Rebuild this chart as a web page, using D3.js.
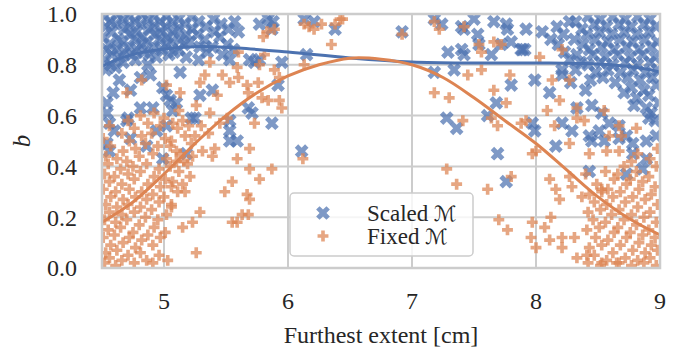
<!DOCTYPE html>
<html>
<head>
<meta charset="utf-8">
<script src="https://cdn.jsdelivr.net/npm/d3@7"></script>
<style>
  body { margin: 0; background: #fff; }
  text { font-family: "Liberation Serif", "Times New Roman", "DejaVu Serif", serif; }
</style>
</head>
<body>
<div id="chart"></div>
<script>
// ticks
const xTicks = [5, 6, 7, 8, 9];
const yTicks = [0.0, 0.2, 0.4, 0.6, 0.8, 1.0];

// Scaled M scatter (left / middle / right groups)
const scaledLeft = [
  [4.52,0.99],[4.53,0.95],[4.51,0.91],[4.54,0.86],[4.52,0.82],[4.53,0.78],
  [4.57,0.97],[4.58,0.93],[4.56,0.88],[4.58,0.84],[4.57,0.80],
  [4.62,1.00],[4.61,0.96],[4.63,0.90],[4.62,0.86],[4.64,0.83],[4.61,0.79],
  [4.67,0.98],[4.68,0.94],[4.66,0.89],[4.68,0.85],[4.67,0.81],
  [4.72,0.99],[4.71,0.95],[4.73,0.92],[4.72,0.87],[4.74,0.84],
  [4.77,0.97],[4.78,0.93],[4.76,0.90],[4.78,0.86],[4.77,0.82],
  [4.82,1.00],[4.81,0.96],[4.83,0.91],[4.82,0.88],[4.84,0.85],
  [4.87,0.98],[4.88,0.94],[4.86,0.89],[4.88,0.84],[4.87,0.80],
  [4.92,0.99],[4.91,0.95],[4.93,0.92],[4.92,0.87],[4.94,0.83],
  [4.97,0.97],[4.98,0.93],[4.96,0.90],[4.98,0.86],
  [5.02,0.99],[5.01,0.95],[5.03,0.91],[5.02,0.88],[5.04,0.84],
  [5.07,0.97],[5.08,0.93],[5.06,0.89],[5.08,0.85],
  [5.12,0.98],[5.11,0.94],[5.13,0.90],[5.12,0.86],
  [5.17,0.96],[5.18,0.92],[5.16,0.88],[5.18,0.83],
  [5.22,0.99],[5.23,0.94],[5.21,0.89],
  [5.28,0.97],[5.27,0.92],[5.29,0.87],[5.28,0.82],
  [5.34,0.95],[5.33,0.90],[5.35,0.85],
  [5.40,0.98],[5.41,0.93],[5.39,0.87],
  [5.46,0.96],[5.45,0.91],[5.47,0.84],
  [5.52,0.94],[5.51,0.88],[5.53,0.82],
  [5.57,0.97],[5.56,0.86],
  [4.64,0.74],[4.73,0.70],[4.81,0.75],[4.89,0.76],[4.59,0.69],[4.54,0.65],
  [4.81,0.63],[4.91,0.63],[4.71,0.59],[4.56,0.57],[4.99,0.71],[5.02,0.68],
  [5.10,0.65],[5.25,0.59],[5.29,0.68],[5.39,0.70],[5.13,0.77],[5.02,0.56],
  [4.94,0.54],[4.54,0.61],[4.60,0.54],[4.70,0.58],[5.05,0.66],[5.07,0.62],
  [5.22,0.59],[5.53,0.54],[5.53,0.58],[4.54,0.49],[4.56,0.46],[4.73,0.51],
  [4.86,0.48],[4.99,0.43],[5.18,0.45],[5.53,0.50]
];
const scaledMid = [
  [5.60,0.93],[5.77,0.96],[5.84,0.98],[5.88,0.97],[5.87,0.94],[5.69,0.82],
  [5.73,0.81],[5.77,0.82],[5.95,0.81],[5.92,0.72],[5.68,0.63],[5.71,0.61],
  [5.87,0.57],[5.59,0.50],[6.13,0.98],[6.21,0.97],[6.38,0.94],[6.15,0.84],
  [6.11,0.46],[6.92,0.93],[7.18,0.98],[7.24,0.96],[7.29,0.85],[7.40,0.86],
  [7.42,0.84],[7.40,0.95],[7.42,0.94],[7.50,0.98],[7.53,0.92],[7.66,0.97],
  [7.76,0.96],[7.77,0.94],[7.54,0.88],[7.64,0.84],[7.72,0.88],[7.80,0.89],
  [7.88,0.86],[7.18,0.77],[7.34,0.78],[7.80,0.72],[7.68,0.65],[7.28,0.59],
  [7.36,0.55],[7.61,0.60],[7.69,0.45],[7.76,0.34],[7.91,0.86]
];
const scaledRight = [
  [7.92,0.94],[8.05,0.93],[7.89,0.86],[7.99,0.74],[8.11,0.69],[8.21,0.76],
  [8.27,0.97],[8.40,0.70],[8.45,0.64],[8.33,0.63],[8.53,0.61],[8.59,0.57],
  [8.67,0.56],[8.91,0.59],[8.97,0.52],[8.73,0.52],[8.51,0.54],[7.97,0.57],
  [7.99,0.54],[8.21,0.57],[8.29,0.54],[8.43,0.52],
  [8.16,0.48],[8.45,0.50],[8.55,0.50],[8.67,0.51],[8.78,0.49],[8.89,0.50],
  [8.78,0.45],[8.89,0.43],[8.73,0.37],[8.86,0.39],[8.43,0.38],
  [8.12,0.90],[8.17,0.95],[8.18,0.88],[8.22,0.92],[8.23,0.85],[8.21,0.78],
  [8.27,0.82],[8.28,0.73],
  [8.32,0.97],[8.31,0.90],[8.33,0.84],[8.32,0.78],
  [8.37,0.94],[8.38,0.88],[8.36,0.81],
  [8.42,0.99],[8.41,0.92],[8.43,0.86],[8.42,0.80],[8.44,0.74],
  [8.47,0.96],[8.48,0.90],[8.46,0.84],[8.48,0.77],
  [8.52,0.98],[8.51,0.93],[8.53,0.87],[8.52,0.81],[8.54,0.75],
  [8.57,0.95],[8.58,0.89],[8.56,0.83],[8.58,0.78],
  [8.62,0.99],[8.61,0.92],[8.63,0.86],[8.62,0.80],[8.64,0.73],
  [8.67,0.96],[8.68,0.90],[8.66,0.84],[8.68,0.77],
  [8.72,0.98],[8.71,0.93],[8.73,0.87],[8.72,0.81],[8.74,0.75],[8.71,0.69],
  [8.77,0.95],[8.78,0.89],[8.76,0.83],[8.78,0.78],[8.77,0.71],[8.79,0.64],
  [8.82,0.99],[8.81,0.92],[8.83,0.86],[8.82,0.80],[8.84,0.74],[8.81,0.67],
  [8.87,0.96],[8.88,0.90],[8.86,0.84],[8.88,0.77],[8.87,0.70],[8.89,0.63],
  [8.92,0.98],[8.91,0.93],[8.93,0.87],[8.92,0.81],[8.94,0.75],[8.91,0.68],[8.93,0.61],
  [8.97,0.95],[8.98,0.89],[8.96,0.83],[8.98,0.78],[8.97,0.72],[8.99,0.65],[8.96,0.58]
];

// Fixed M scatter
const fixedLeft = [
  [4.52,0.02],[4.53,0.06],[4.51,0.12],[4.52,0.19],[4.53,0.25],[4.51,0.31],[4.52,0.37],[4.53,0.44],[4.51,0.51],
  [4.56,0.04],[4.57,0.09],[4.55,0.15],[4.56,0.22],[4.57,0.28],[4.56,0.34],[4.55,0.41],[4.57,0.48],[4.56,0.56],
  [4.61,0.01],[4.62,0.07],[4.60,0.13],[4.61,0.18],[4.62,0.24],[4.61,0.30],[4.60,0.36],[4.62,0.43],
  [4.66,0.03],[4.67,0.10],[4.65,0.16],[4.66,0.21],[4.67,0.27],[4.66,0.33],[4.65,0.39],[4.67,0.46],[4.66,0.53],
  [4.71,0.05],[4.72,0.12],[4.70,0.19],[4.71,0.25],[4.72,0.31],[4.71,0.37],[4.70,0.42],[4.72,0.50],[4.71,0.58],
  [4.76,0.02],[4.77,0.08],[4.75,0.14],[4.76,0.22],[4.77,0.28],[4.76,0.35],[4.75,0.40],[4.77,0.47],[4.76,0.55],
  [4.81,0.06],[4.82,0.11],[4.80,0.17],[4.81,0.24],[4.82,0.30],[4.81,0.38],[4.80,0.44],[4.82,0.52],[4.81,0.60],
  [4.86,0.03],[4.87,0.13],[4.85,0.20],[4.86,0.27],[4.87,0.33],[4.86,0.41],[4.85,0.49],[4.87,0.57],
  [4.91,0.09],[4.92,0.16],[4.90,0.23],[4.91,0.29],[4.92,0.36],[4.91,0.45],[4.90,0.53],[4.92,0.61],
  [4.96,0.05],[4.97,0.12],[4.95,0.19],[4.96,0.26],[4.97,0.32],[4.96,0.39],[4.95,0.48],[4.97,0.56],
  [5.01,0.14],[5.02,0.21],[5.00,0.28],[5.01,0.35],[5.02,0.43],[5.01,0.51],[5.00,0.59],
  [5.06,0.25],[5.07,0.34],[5.05,0.40],[5.06,0.50],[5.07,0.57],
  [5.11,0.30],[5.12,0.38],[5.10,0.46],[5.11,0.55],[5.12,0.62],
  [5.16,0.42],[5.17,0.52],[5.15,0.58],[5.21,0.36],[5.22,0.49],[5.20,0.56],
  [4.82,0.74],[4.70,0.69],[5.02,0.72],[5.13,0.69],[5.26,0.64],[5.29,0.73],
  [5.37,0.81],[5.33,0.76],[5.47,0.76],[5.53,0.73],[5.43,0.68],[5.37,0.61],[5.51,0.59],
  [5.06,0.32],[5.15,0.33],[5.17,0.30],[5.06,0.24],[5.29,0.22],[5.15,0.16],[5.23,0.18],
  [5.26,0.06],[5.03,0.03],[4.91,0.02],[5.31,0.46],[5.41,0.47],[5.39,0.44],[5.55,0.34],
  [5.49,0.30],[5.55,0.18],[5.05,0.48],[5.13,0.45],[5.10,0.42],[5.19,0.41],[5.23,0.44],
  [5.30,0.56],[5.36,0.53],[5.45,0.57],[5.25,0.52]
];
const fixedMid = [
  [5.60,0.85],[5.59,0.79],[5.80,0.91],[5.83,0.93],[5.89,0.94],[5.81,0.84],
  [5.77,0.80],[5.60,0.75],[5.67,0.72],[5.76,0.73],[5.68,0.69],[5.79,0.67],
  [5.84,0.66],[5.93,0.66],[5.95,0.63],[5.93,0.75],[5.89,0.78],[5.73,0.57],
  [5.69,0.47],[5.59,0.43],[5.69,0.39],[5.87,0.39],[5.77,0.35],[5.67,0.29],
  [5.69,0.27],[5.63,0.21],[5.68,0.21],[5.59,0.18],[6.13,0.96],[6.17,0.95],
  [6.21,0.94],[6.27,0.96],[6.38,0.96],[6.42,0.98],[6.44,0.98],[6.35,0.88],
  [6.13,0.80],[6.12,0.43],[6.92,0.92],[7.18,0.97],[7.22,0.94],[7.42,0.95],
  [7.54,0.88],[7.56,0.85],[7.66,0.89],[7.72,0.88],[7.56,0.78],[7.45,0.76],
  [7.18,0.69],[7.30,0.67],[7.66,0.70],[7.76,0.65],[7.79,0.76],[7.41,0.58],
  [7.64,0.59],[7.69,0.56],[7.88,0.57],[7.28,0.39],[7.36,0.33],[7.61,0.31],
  [7.80,0.36],[7.70,0.19],[7.77,0.15]
];
const fixedRight = [
  [8.21,0.86],[8.03,0.83],[8.13,0.74],[8.27,0.74],[8.19,0.66],[8.09,0.62],
  [8.33,0.63],[8.33,0.59],[8.39,0.58],[8.55,0.62],[8.67,0.56],[8.81,0.55],
  [7.92,0.58],[8.15,0.56],[8.59,0.52],[8.69,0.52],
  [7.97,0.45],[8.00,0.46],[8.27,0.49],[8.43,0.45],[8.57,0.46],[8.67,0.46],
  [8.11,0.35],[8.16,0.31],[8.19,0.27],[8.27,0.36],[8.29,0.32],[8.40,0.37],
  [8.37,0.28],[8.49,0.33],[8.53,0.31],[7.97,0.18],[8.07,0.16],[8.12,0.20],
  [7.96,0.12],[8.00,0.08],[8.11,0.11],[8.21,0.12],[8.31,0.12],[8.21,0.08],
  [8.33,0.04],[8.41,0.05],[8.53,0.02],[8.65,0.02],
  [8.42,0.02],[8.43,0.08],[8.41,0.15],[8.42,0.22],[8.43,0.29],
  [8.47,0.05],[8.48,0.12],[8.46,0.19],[8.47,0.26],
  [8.52,0.01],[8.53,0.09],[8.51,0.16],[8.52,0.23],[8.53,0.30],
  [8.57,0.03],[8.58,0.11],[8.56,0.18],[8.57,0.25],[8.58,0.31],[8.56,0.38],
  [8.62,0.06],[8.63,0.14],[8.61,0.21],[8.62,0.28],[8.63,0.35],
  [8.67,0.02],[8.68,0.09],[8.66,0.16],[8.67,0.23],[8.68,0.30],[8.66,0.37],
  [8.72,0.04],[8.73,0.12],[8.71,0.19],[8.72,0.26],[8.73,0.33],[8.71,0.40],
  [8.77,0.01],[8.78,0.07],[8.76,0.14],[8.77,0.21],[8.78,0.28],[8.76,0.35],[8.77,0.42],
  [8.82,0.03],[8.83,0.10],[8.81,0.17],[8.82,0.24],[8.83,0.31],[8.81,0.38],[8.82,0.45],
  [8.87,0.02],[8.88,0.06],[8.86,0.13],[8.87,0.20],[8.88,0.27],[8.86,0.34],
  [8.92,0.04],[8.93,0.09],[8.91,0.15],[8.92,0.22],[8.93,0.29],[8.91,0.36],[8.92,0.43],
  [8.97,0.01],[8.98,0.07],[8.96,0.12],[8.97,0.18],[8.98,0.25],[8.96,0.32],[8.97,0.40],[8.98,0.47]
];

// smoothed fits
const scaledFit = [
  [4.50,0.795],[4.72,0.837],[5.00,0.862],[5.30,0.872],[5.60,0.866],[6.00,0.850],
  [6.50,0.827],[7.00,0.811],[7.50,0.807],[8.00,0.807],[8.50,0.803],[8.80,0.790],[9.00,0.772]
];
const fixedFit = [
  [4.50,0.18],[4.75,0.26],[5.00,0.37],[5.25,0.49],[5.50,0.60],[5.75,0.69],
  [6.00,0.756],[6.25,0.80],[6.50,0.826],[6.75,0.822],[7.00,0.80],[7.25,0.75],
  [7.50,0.67],[7.75,0.58],[8.00,0.49],[8.25,0.385],[8.50,0.28],[8.75,0.195],[9.00,0.13]
];

const blue = "#4c72b0", orange = "#dd8452";
const width = 680, height = 349;
const margin = {top: 14, right: 20, bottom: 81, left: 102};

const svg = d3.select("#chart").append("svg")
  .attr("width", width).attr("height", height);

const x = d3.scaleLinear().domain([4.5, 9]).range([margin.left, width - margin.right]);
const y = d3.scaleLinear().domain([0, 1]).range([height - margin.bottom, margin.top]);

svg.append("clipPath").attr("id", "plot")
  .append("rect")
  .attr("x", x(4.5)).attr("y", y(1))
  .attr("width", x(9) - x(4.5)).attr("height", y(0) - y(1));

// grid
const grid = svg.append("g").attr("stroke", "#cccccc").attr("stroke-width", 2);
grid.selectAll(".gx").data(xTicks).join("line")
  .attr("x1", d => x(d)).attr("x2", d => x(d))
  .attr("y1", y(0)).attr("y2", y(1));
grid.selectAll(".gy").data(yTicks).join("line")
  .attr("y1", d => y(d)).attr("y2", d => y(d))
  .attr("x1", x(4.5)).attr("x2", x(9));

const xMark = d3.symbol().type(d3.symbolCross).size(118);
const pMark = d3.symbol().type(d3.symbolCross).size(66);

const pts = svg.append("g").attr("clip-path", "url(#plot)");

pts.append("g").selectAll("path")
  .data(scaledLeft.concat(scaledMid, scaledRight))
  .join("path")
  .attr("d", xMark)
  .attr("transform", d => `translate(${x(d[0])},${y(d[1])}) rotate(45)`)
  .attr("fill", blue).attr("fill-opacity", 0.72);

pts.append("g").selectAll("path")
  .data(fixedLeft.concat(fixedMid, fixedRight))
  .join("path")
  .attr("d", pMark)
  .attr("transform", d => `translate(${x(d[0])},${y(d[1])})`)
  .attr("fill", orange).attr("fill-opacity", 0.72);

const line = d3.line().curve(d3.curveCatmullRom)
  .x(d => x(d[0])).y(d => y(d[1]));

pts.append("path").datum(scaledFit)
  .attr("d", line).attr("fill", "none")
  .attr("stroke", blue).attr("stroke-width", 3);
pts.append("path").datum(fixedFit)
  .attr("d", line).attr("fill", "none")
  .attr("stroke", orange).attr("stroke-width", 3);

// frame
svg.append("rect")
  .attr("x", x(4.5)).attr("y", y(1))
  .attr("width", x(9) - x(4.5)).attr("height", y(0) - y(1))
  .attr("fill", "none").attr("stroke", "#cccccc").attr("stroke-width", 2.5);

// tick labels
svg.append("g").selectAll("text").data(xTicks).join("text")
  .attr("x", d => x(d)).attr("y", 309)
  .attr("text-anchor", "middle").attr("font-size", 24).attr("fill", "#262626")
  .text(d => d);
svg.append("g").selectAll("text").data(yTicks).join("text")
  .attr("x", 77).attr("y", d => y(d)).attr("dy", "0.35em")
  .attr("text-anchor", "end").attr("font-size", 24).attr("fill", "#262626")
  .text(d => d.toFixed(1));

svg.append("text")
  .attr("x", (x(4.5) + x(9)) / 2).attr("y", 343)
  .attr("text-anchor", "middle").attr("font-size", 24).attr("fill", "#262626")
  .text("Furthest extent [cm]");

svg.append("text")
  .attr("transform", `translate(30,${(y(0) + y(1)) / 2}) rotate(-90)`)
  .attr("text-anchor", "middle").attr("font-size", 25).attr("font-style", "italic")
  .attr("fill", "#262626")
  .text("b");

// legend
const lg = svg.append("g");
lg.append("rect")
  .attr("x", 290).attr("y", 193).attr("width", 183).attr("height", 63).attr("rx", 4)
  .attr("fill", "#ffffff").attr("fill-opacity", 0.8)
  .attr("stroke", "#cccccc").attr("stroke-width", 1.5);
const entries = [
  {label: "Scaled ", color: blue, mark: xMark, rot: 45, cy: 213},
  {label: "Fixed ", color: orange, mark: pMark, rot: 0, cy: 236}
];
entries.forEach(e => {
  lg.append("path").attr("d", e.mark)
    .attr("transform", `translate(323,${e.cy}) rotate(${e.rot})`)
    .attr("fill", e.color).attr("fill-opacity", 0.72);
  const t = lg.append("text").attr("x", 367).attr("y", e.cy + 8)
    .attr("font-size", 23).attr("fill", "#262626");
  t.append("tspan").text(e.label);
  t.append("tspan").style("font-family", "'DejaVu Serif', 'DejaVu Sans'").attr("font-size", 21).text("\u2133");
});
</script>
</body>
</html>
